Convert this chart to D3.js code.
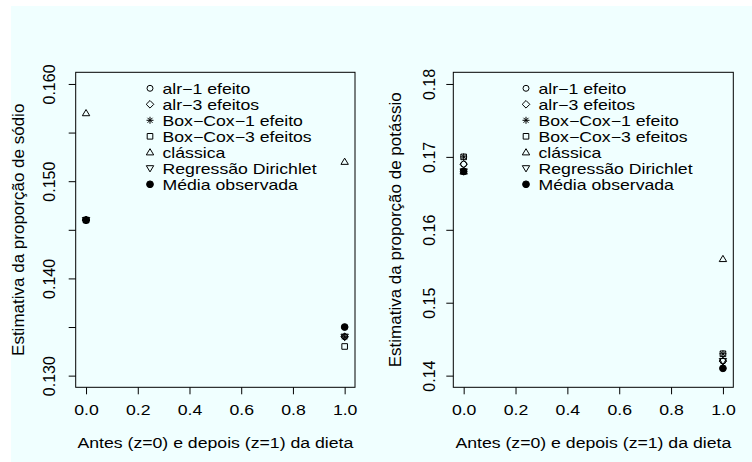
<!DOCTYPE html>
<html>
<head>
<meta charset="utf-8">
<script src="https://cdn.jsdelivr.net/npm/d3@7"></script>
<style>
  body { margin: 0; background: #ffffff; }
  svg text { font-family: "Liberation Sans", Arial, Helvetica, sans-serif; fill: #000; }
</style>
</head>
<body>
<div id="chart"></div>
<script>
// ---- data ----
const series = ["alr\u22121 efeito", "alr\u22123 efeitos", "Box\u2212Cox\u22121 efeito", "Box\u2212Cox\u22123 efeitos",
                "cl\u00e1ssica", "Regress\u00e3o Dirichlet", "M\u00e9dia observada"];
const shapes = ["circle", "diamond", "star", "square", "triangle", "invtriangle", "dot"];
const zValues = [0, 1];
const sodioZ0 = [0.146, 0.146, 0.146, 0.146, 0.157, 0.146, 0.146];
const sodioZ1 = [0.134, 0.134, 0.134, 0.133, 0.152, 0.134, 0.135];
const potassioZ0 = [0.169, 0.169, 0.170, 0.170, 0.168, 0.168, 0.168];
const potassioZ1 = [0.142, 0.142, 0.143, 0.143, 0.156, 0.142, 0.141];
const xTicks = [0, 0.2, 0.4, 0.6, 0.8, 1.0];
const sodioTicks = [0.130, 0.135, 0.140, 0.145, 0.150, 0.155, 0.160];
const sodioLabelled = [0.130, 0.140, 0.150, 0.160];
const potassioTicks = [0.14, 0.15, 0.16, 0.17, 0.18];

const W = 752, H = 462;
const FS = "15.5px";   // glyph height
const SX = 1.14;       // horizontal text is a bit wider in the original
const LFS = 14.2;      // legend rows are only 16px apart
const LSX = SX * 15.5 / LFS;
const svg = d3.select("#chart").append("svg").attr("width", W).attr("height", H);

// background
svg.append("rect").attr("x", 11).attr("y", 6).attr("width", W - 11).attr("height", H - 6)
  .attr("fill", "#f0ffff");

// marker path generator
function markerPath(shape) {
  switch (shape) {
    case "circle": return d3.symbol(d3.symbolCircle, 28)();
    case "dot": return d3.symbol(d3.symbolCircle, 36)();
    case "square": return "M-2.8,-2.8H2.8V2.8H-2.8Z";
    case "diamond": return "M0,-3.8L3.8,0L0,3.8L-3.8,0Z";
    case "triangle": return "M0,-3.6L3.7,2.6L-3.7,2.6Z";
    case "invtriangle": return "M0,3.6L3.7,-2.6L-3.7,-2.6Z";
    case "star": return "M-3.5,0H3.5M0,-3.5V3.5M-2.5,-2.5L2.5,2.5M-2.5,2.5L2.5,-2.5";
  }
}

function drawMarker(g, shape, x, y) {
  g.append("path")
    .attr("d", markerPath(shape))
    .attr("transform", `translate(${x},${y})`)
    .attr("fill", shape === "dot" ? "#000" : "none")
    .attr("stroke", "#000")
    .attr("stroke-width", 1);
}

function panel(opts) {
  const g = svg.append("g");
  const x = d3.scaleLinear().domain([-0.04, 1.04]).range([opts.left, opts.right]);
  const pad = (opts.yMax - opts.yMin) * 0.04;
  const y = d3.scaleLinear().domain([opts.yMin - pad, opts.yMax + pad]).range([387.3, 72.3]);

  // box
  g.append("rect")
    .attr("x", x(-0.04)).attr("y", y(opts.yMax + pad))
    .attr("width", x(1.04) - x(-0.04)).attr("height", y(opts.yMin - pad) - y(opts.yMax + pad))
    .attr("fill", "none").attr("stroke", "#000").attr("stroke-width", 1);

  // x axis
  const xa = g.append("g").attr("transform", `translate(0,${y(opts.yMin - pad)})`)
    .call(d3.axisBottom(x).tickValues(xTicks).tickSize(7).tickFormat(d3.format(".1f")));
  xa.select(".domain").remove();
  xa.selectAll("line").attr("stroke", "#000");
  xa.selectAll("text").attr("font-size", FS).attr("y", 0).attr("dy", 0)
    .attr("transform", `translate(0,23) scale(${SX},1)`).attr("dominant-baseline", "central");

  // y axis
  const fmt = d3.format(opts.fmt);
  const ya = g.append("g").attr("transform", `translate(${x(-0.04)},0)`)
    .call(d3.axisLeft(y).tickValues(opts.ticks).tickSize(7)
      .tickFormat(d => opts.labelled.some(v => Math.abs(v - d) < 1e-9) ? fmt(d) : ""));
  ya.select(".domain").remove();
  ya.selectAll("line").attr("stroke", "#000");
  ya.selectAll("text").attr("font-size", "16px").attr("x", 0).attr("dy", 0)
    .attr("text-anchor", "middle").attr("dominant-baseline", "central")
    .attr("transform", `translate(${opts.tickLabelX - x(-0.04)},0) rotate(-90)`);

  // axis titles
  g.append("text")
    .attr("transform", `translate(${(x(-0.04) + x(1.04)) / 2},443) scale(${SX},1)`)
    .attr("text-anchor", "middle").attr("dominant-baseline", "central")
    .attr("font-size", FS)
    .text("Antes (z=0) e depois (z=1) da dieta");
  g.append("text")
    .attr("transform", `translate(${opts.titleX},${(y(opts.yMax + pad) + y(opts.yMin - pad)) / 2}) rotate(-90)`)
    .attr("text-anchor", "middle").attr("dominant-baseline", "central")
    .attr("font-size", "17px")
    .text(opts.title);

  // points
  [opts.z0, opts.z1].forEach((vals, i) => {
    vals.forEach((v, k) => drawMarker(g, shapes[k], x(zValues[i]), y(v)));
  });

  // legend
  series.forEach((name, k) => {
    const ly = 88.3 + k * 16;
    drawMarker(g, shapes[k], opts.legendX, ly);
    g.append("text")
      .attr("transform", `translate(${opts.legendX + 12.5},${ly}) scale(${LSX},1)`)
      .attr("dominant-baseline", "central")
      .attr("font-size", LFS + "px")
      .text(name);
  });
}

panel({
  left: 75.7, right: 355, yMin: 0.130, yMax: 0.160,
  ticks: sodioTicks, labelled: sodioLabelled, fmt: ".3f",
  z0: sodioZ0, z1: sodioZ1,
  tickLabelX: 50, titleX: 18, legendX: 150,
  title: "Estimativa da propor\u00e7\u00e3o de s\u00f3dio"
});

panel({
  left: 453.3, right: 733.3, yMin: 0.14, yMax: 0.18,
  ticks: potassioTicks, labelled: potassioTicks, fmt: ".2f",
  z0: potassioZ0, z1: potassioZ1,
  tickLabelX: 429, titleX: 395, legendX: 526,
  title: "Estimativa da propor\u00e7\u00e3o de pot\u00e1ssio"
});
</script>
</body>
</html>
